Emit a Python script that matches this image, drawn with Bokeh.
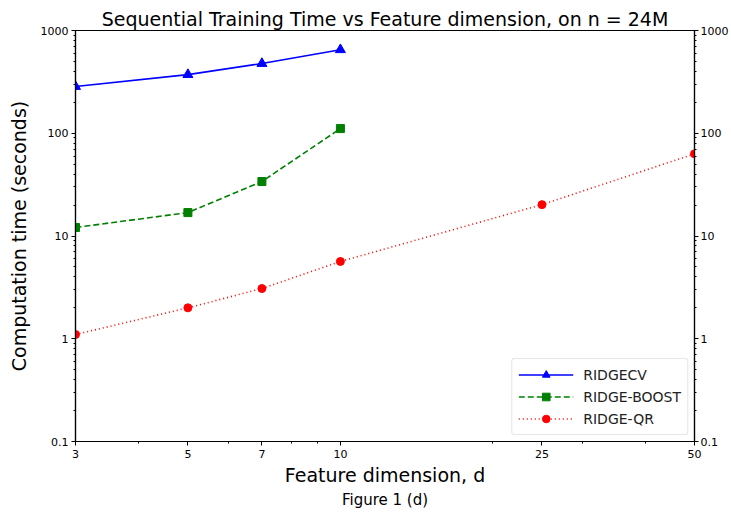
from bokeh.plotting import figure
from bokeh.models import FixedTicker, LogAxis, Title, Legend, LegendItem
from bokeh.embed import file_html
from bokeh.resources import INLINE

dims_cv = [3, 5, 7, 10]
ridgecv = [285, 372, 477, 650]
dims_boost = [3, 5, 7, 10]
ridge_boost = [12.1, 16.9, 33.9, 111]
dims_qr = [3, 5, 7, 10, 25, 50]
ridge_qr = [1.1, 2.0, 3.08, 5.65, 20.2, 63]

x_ticks = [3, 5, 7, 10, 25, 50]
x_minor = [4, 6, 8, 9, 20, 30, 40]
y_ticks = [0.1, 1, 10, 100, 1000]
y_minor = [m * 10.0 ** e for e in range(-1, 3) for m in range(2, 10)]
y_labels = {0.1: "0.1", 1: "1", 10: "10", 100: "100", 1000: "1000"}

p = figure(width=731, height=514, x_axis_type="log", y_axis_type="log",
           x_range=(3, 50), y_range=(0.1, 1000),
           output_backend="svg", toolbar_location=None,
           min_border_left=75, min_border_right=35, min_border_top=30, min_border_bottom=73)
p.title.text = "Sequential Training Time vs Feature dimension, on n = 24M"
p.title.align = "center"
p.title.text_font = "DejaVu Sans"
p.title.text_font_size = "19px"
p.title.text_font_style = "normal"
p.title.text_color = "black"
p.title.standoff = 2

p.grid.visible = False
p.outline_line_color = "black"
p.outline_line_width = 1.2
p.background_fill_color = "white"
p.border_fill_color = "white"

def style_axis(ax):
    ax.axis_line_width = 1.2
    ax.axis_line_color = "black"
    ax.major_tick_line_color = "black"
    ax.minor_tick_line_color = "black"
    ax.major_tick_out = 4
    ax.major_tick_in = 0
    ax.minor_tick_out = 2
    ax.minor_tick_in = 0
    ax.major_label_text_font = "DejaVu Sans"
    ax.major_label_text_font_size = "11px"
    ax.major_label_text_color = "black"
    ax.axis_label_text_font = "DejaVu Sans"
    ax.axis_label_text_font_style = "normal"
    ax.axis_label_text_font_size = "19px"
    ax.axis_label_text_color = "black"

style_axis(p.xaxis[0])
style_axis(p.yaxis[0])

p.xaxis.ticker = FixedTicker(ticks=x_ticks, minor_ticks=x_minor)
p.xaxis.major_label_overrides = {t: str(t) for t in x_ticks}
p.xaxis.axis_label = "Feature dimension, d"
p.xaxis.axis_label_standoff = 3
p.xaxis.major_label_standoff = 4

p.yaxis.ticker = FixedTicker(ticks=y_ticks, minor_ticks=y_minor)
p.yaxis.major_label_overrides = y_labels
p.yaxis.axis_label = "Computation time (seconds)"
p.yaxis.axis_label_standoff = 8
p.yaxis.major_label_standoff = 3

right = LogAxis(ticker=FixedTicker(ticks=y_ticks, minor_ticks=y_minor),
                major_label_overrides=y_labels)
style_axis(right)
right.major_label_standoff = 2
p.add_layout(right, "right")

p.add_layout(Title(text="Figure 1 (d)", align="center", text_font="DejaVu Sans",
                   text_font_size="15px", text_font_style="normal", text_color="black",
                   standoff=0), "below")

l1 = p.line(dims_cv, ridgecv, line_color="blue", line_width=1.6)
m1 = p.scatter(dims_cv, ridgecv, marker="triangle", size=10, color="blue")
l2 = p.line(dims_boost, ridge_boost, line_color="green", line_width=1.6, line_dash="6 3")
m2 = p.scatter(dims_boost, ridge_boost, marker="square", size=8, color="green")
l3 = p.line(dims_qr, ridge_qr, line_color="red", line_width=1.6, line_dash="1 3")
m3 = p.scatter(dims_qr, ridge_qr, marker="circle", size=8, color="red")

legend = Legend(items=[LegendItem(label="RIDGECV", renderers=[l1, m1]),
                       LegendItem(label="RIDGE-BOOST", renderers=[l2, m2]),
                       LegendItem(label="RIDGE-QR", renderers=[l3, m3])],
                location="bottom_right")
legend.label_text_font = "DejaVu Sans"
legend.label_text_font_size = "14px"
legend.label_text_color = "#222222"
legend.border_line_color = "#cccccc"
legend.border_line_width = 1
legend.border_radius = 3
legend.glyph_width = 55
legend.glyph_height = 19
legend.spacing = 3
legend.padding = 6
legend.margin = 6
legend.label_standoff = 10
p.add_layout(legend)

open("out.html", "w").write(file_html(p, INLINE))
